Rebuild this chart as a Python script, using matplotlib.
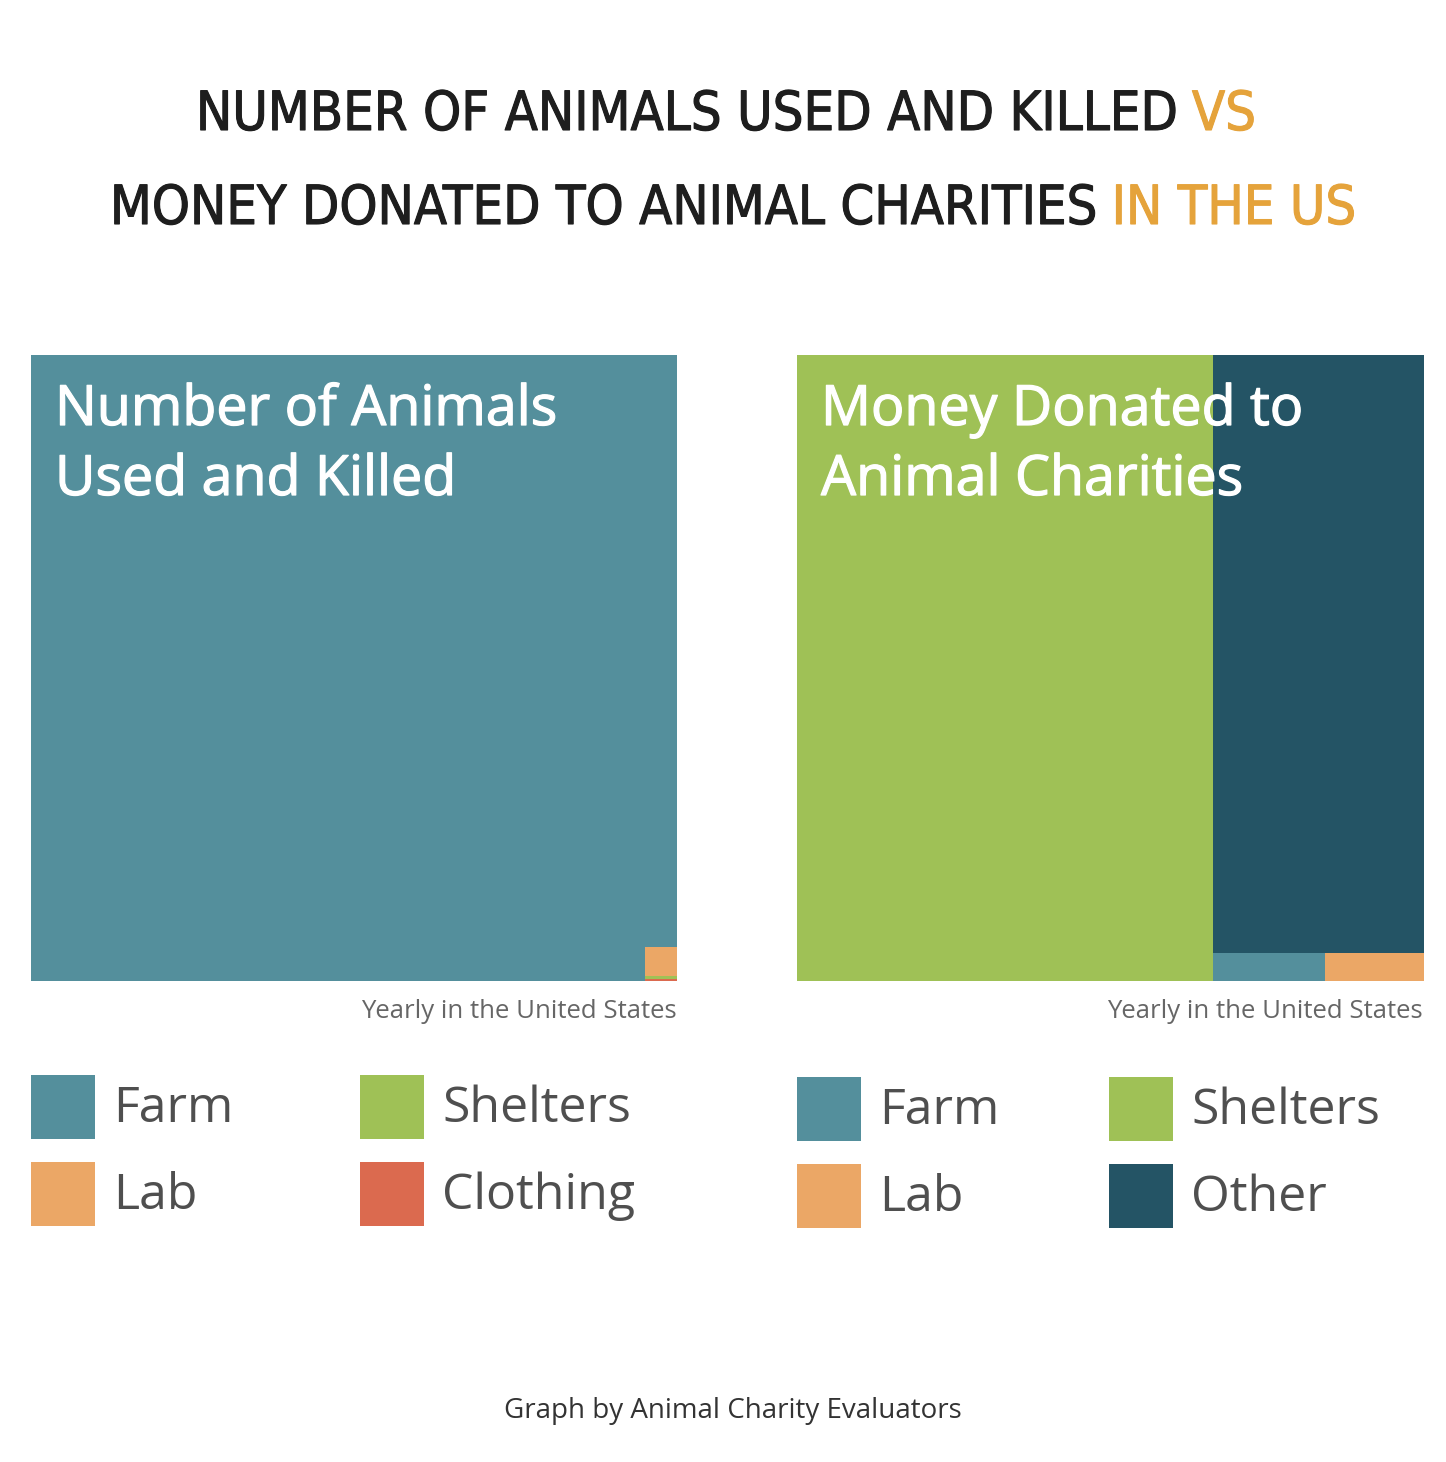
import matplotlib
matplotlib.use("Agg")
import matplotlib.pyplot as plt
import matplotlib.patheffects as pe
from matplotlib.patches import Rectangle

# data (share of total, %)
animal_cats = ["Farm", "Lab", "Shelters", "Clothing"]
animal_vals = [99.73, 0.23, 0.024, 0.016]
money_cats = ["Shelters", "Other", "Farm", "Lab"]
money_vals = [66.3, 32.2, 0.8, 0.7]

colors = {"Farm": "#548f9c", "Lab": "#eba766", "Shelters": "#9fc156",
          "Clothing": "#db6a4f", "Other": "#245465"}
gold = "#e5a33b"
grey = "#4f4f4f"

W, H = 1446, 1462
fig = plt.figure(figsize=(W / 100, H / 100), dpi=100)
fig.patch.set_facecolor("white")


def panel(x0, y0, x1, y1):
    ax = fig.add_axes([x0 / W, (H - y1) / H, (x1 - x0) / W, (y1 - y0) / H])
    ax.set_xlim(0, 1)
    ax.set_ylim(0, 1)
    ax.axis("off")
    return ax


# ---- left treemap: farm fills all but a thin corner column ----
axL = panel(31, 355, 677, 981)
tot = sum(animal_vals)
v = dict(zip(animal_cats, [a / tot for a in animal_vals]))
cw = 0.0495  # width of corner column
small = ["Clothing", "Shelters", "Lab"]  # bottom to top
hs = sum(v[c] for c in small) / cw
axL.add_patch(Rectangle((0, 0), 1 - cw, 1, color=colors["Farm"], lw=0))
axL.add_patch(Rectangle((1 - cw, hs), cw, 1 - hs, color=colors["Farm"], lw=0))
y = 0
for c in small:
    h = v[c] / cw
    axL.add_patch(Rectangle((1 - cw, y), cw, h, color=colors[c], lw=0))
    y += h

# ---- right treemap ----
axR = panel(797, 355, 1424, 981)
tot = sum(money_vals)
m = dict(zip(money_cats, [a / tot for a in money_vals]))
sw = m["Shelters"]
axR.add_patch(Rectangle((0, 0), sw, 1, color=colors["Shelters"], lw=0))
rw = 1 - sw
bh = (m["Farm"] + m["Lab"]) / rw
axR.add_patch(Rectangle((sw, bh), rw, 1 - bh, color=colors["Other"], lw=0))
x = sw
for c in ["Farm", "Lab"]:
    w = m[c] / bh
    axR.add_patch(Rectangle((x, 0), w, bh, color=colors[c], lw=0))
    x += w

# overlay axes in pixel units for text and legend (on top of panels)
ov = fig.add_axes([0, 0, 1, 1], zorder=10)
ov.set_xlim(0, W)
ov.set_ylim(H, 0)
ov.axis("off")
ov.patch.set_alpha(0)

# panel headings
hfont = dict(family=["Open Sans", "DejaVu Sans"], fontsize=40,
             color="white", va="baseline", ha="left")
for hx, lines in [(55, ["Number of Animals", "Used and Killed"]),
                  (821, ["Money Donated to", "Animal Charities"])]:
    for ly, s in zip([425, 495], lines):
        t = ov.text(hx, ly, s, **hfont)
        t.set_path_effects([pe.withStroke(linewidth=0.9, foreground="white")])

sfont = dict(family=["Open Sans", "DejaVu Sans"], fontsize=18.5, color="#666666")
ov.text(677, 1012, "Yearly in the United States", ha="right", va="center", **sfont)
ov.text(1423, 1012, "Yearly in the United States", ha="right", va="center", **sfont)

# legends
lfont = dict(family=["Open Sans", "DejaVu Sans"], fontsize=36, color=grey, va="center", ha="left")
legL = [("Farm", 31, 1075), ("Shelters", 360, 1075), ("Lab", 31, 1162), ("Clothing", 360, 1162)]
legR = [("Farm", 797, 1077), ("Shelters", 1109, 1077), ("Lab", 797, 1164), ("Other", 1109, 1164)]
for name, lx, ly in legL + legR:
    ov.add_patch(Rectangle((lx, ly), 64, 64, color=colors[name], lw=0))
    ov.text(lx + 82, ly + 34, name, **lfont)

# title with coloured pieces, fitted to the reference line width
tfont = dict(family=["DejaVu Sans"], stretch="condensed", va="baseline")
renderer = fig.canvas.get_renderer()


def title_line(parts, cx, base, target_w):
    size = 58
    for _ in range(3):
        items = []
        for s, col in parts:
            t = ov.text(0, base, s, color=col, ha="left", fontsize=size, **tfont)
            t.set_path_effects([pe.withStroke(linewidth=0.8, foreground=col)])
            items.append((t, t.get_window_extent(renderer).width))
        total = sum(wd for _, wd in items)
        if abs(total - target_w) < 4:
            break
        for t, _ in items:
            t.remove()
        size = size * target_w / total
    xx = cx - total / 2
    for t, wd in items:
        t.set_x(xx)
        xx += wd


title_line([("NUMBER OF ANIMALS USED AND KILLED ", "#1e1e1e"), ("VS", gold)], 726, 130, 1061)
title_line([("MONEY DONATED TO ANIMAL CHARITIES ", "#1e1e1e"), ("IN THE US", gold)], 733, 224, 1247)

ov.text(733, 1411, "Graph by Animal Charity Evaluators", ha="center", va="center",
        family=["Open Sans", "DejaVu Sans"], fontsize=20, color="#333333")

fig.savefig("out.png", dpi=100, facecolor="white")
